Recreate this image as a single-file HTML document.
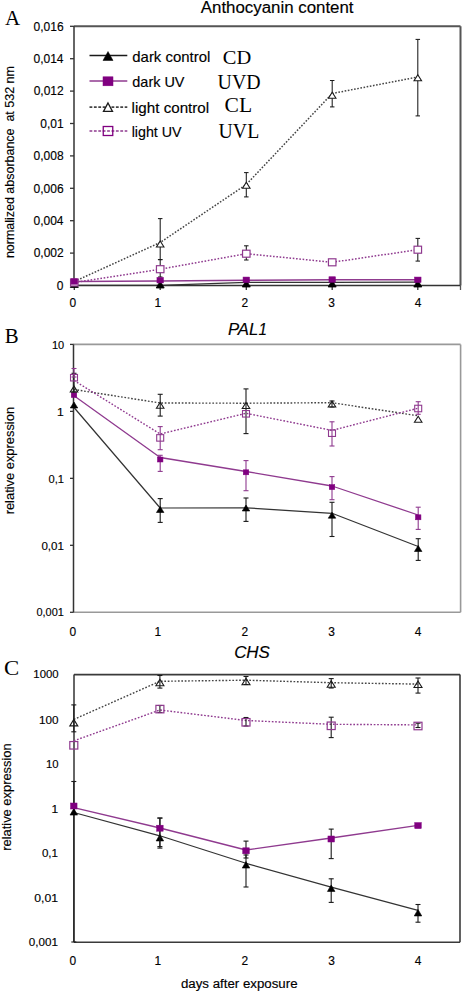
<!DOCTYPE html>
<html><head><meta charset="utf-8"><style>
html,body{margin:0;padding:0;background:#fff;width:463px;height:992px;overflow:hidden}
svg{display:block}
</style></head><body>
<svg width="463" height="992" viewBox="0 0 463 992">
<rect width="463" height="992" fill="#fff"/>
<text x="4.99" y="25.00" font-family='"Liberation Serif", serif' font-size="21" textLength="15.16" lengthAdjust="spacingAndGlyphs" fill="#000" stroke="#000" stroke-width="0" style="" >A</text>
<text x="4.77" y="343.30" font-family='"Liberation Serif", serif' font-size="20" textLength="13.91" lengthAdjust="spacingAndGlyphs" fill="#000" stroke="#000" stroke-width="0" style="" >B</text>
<text x="4.09" y="674.60" font-family='"Liberation Serif", serif' font-size="20" textLength="15.21" lengthAdjust="spacingAndGlyphs" fill="#000" stroke="#000" stroke-width="0" style="" >C</text>
<text x="200.80" y="13.00" font-family='"Liberation Sans", sans-serif' font-size="16" textLength="152.72" lengthAdjust="spacingAndGlyphs" fill="#000" stroke="#000" stroke-width="0.15" style="" >Anthocyanin content</text>
<text transform="translate(13.80,258.11) rotate(-90)" x="0" y="0" font-family='"Liberation Sans", sans-serif' font-size="13" textLength="192.00" lengthAdjust="spacingAndGlyphs" fill="#000" stroke="#000" stroke-width="0.15">normalized absorbance  at 532 nm</text>
<text x="33.58" y="30.60" font-family='"Liberation Sans", sans-serif' font-size="12" textLength="30.03" lengthAdjust="spacingAndGlyphs" fill="#000" stroke="#000" stroke-width="0.15" style="" >0,016</text>
<line x1="70.00" y1="26.30" x2="74.00" y2="26.30" stroke="#333" stroke-width="1.3" />
<text x="33.46" y="63.00" font-family='"Liberation Sans", sans-serif' font-size="12" textLength="30.03" lengthAdjust="spacingAndGlyphs" fill="#000" stroke="#000" stroke-width="0.15" style="" >0,014</text>
<line x1="70.00" y1="58.70" x2="74.00" y2="58.70" stroke="#333" stroke-width="1.3" />
<text x="33.70" y="95.40" font-family='"Liberation Sans", sans-serif' font-size="12" textLength="30.03" lengthAdjust="spacingAndGlyphs" fill="#000" stroke="#000" stroke-width="0.15" style="" >0,012</text>
<line x1="70.00" y1="91.10" x2="74.00" y2="91.10" stroke="#333" stroke-width="1.3" />
<text x="40.30" y="127.80" font-family='"Liberation Sans", sans-serif' font-size="12" textLength="23.36" lengthAdjust="spacingAndGlyphs" fill="#000" stroke="#000" stroke-width="0.15" style="" >0,01</text>
<line x1="70.00" y1="123.50" x2="74.00" y2="123.50" stroke="#333" stroke-width="1.3" />
<text x="33.58" y="160.20" font-family='"Liberation Sans", sans-serif' font-size="12" textLength="30.03" lengthAdjust="spacingAndGlyphs" fill="#000" stroke="#000" stroke-width="0.15" style="" >0,008</text>
<line x1="70.00" y1="155.90" x2="74.00" y2="155.90" stroke="#333" stroke-width="1.3" />
<text x="33.58" y="192.60" font-family='"Liberation Sans", sans-serif' font-size="12" textLength="30.03" lengthAdjust="spacingAndGlyphs" fill="#000" stroke="#000" stroke-width="0.15" style="" >0,006</text>
<line x1="70.00" y1="188.30" x2="74.00" y2="188.30" stroke="#333" stroke-width="1.3" />
<text x="33.46" y="225.00" font-family='"Liberation Sans", sans-serif' font-size="12" textLength="30.03" lengthAdjust="spacingAndGlyphs" fill="#000" stroke="#000" stroke-width="0.15" style="" >0,004</text>
<line x1="70.00" y1="220.70" x2="74.00" y2="220.70" stroke="#333" stroke-width="1.3" />
<text x="33.70" y="257.40" font-family='"Liberation Sans", sans-serif' font-size="12" textLength="30.03" lengthAdjust="spacingAndGlyphs" fill="#000" stroke="#000" stroke-width="0.15" style="" >0,002</text>
<line x1="70.00" y1="253.10" x2="74.00" y2="253.10" stroke="#333" stroke-width="1.3" />
<text x="56.86" y="289.80" font-family='"Liberation Sans", sans-serif' font-size="12" textLength="6.67" lengthAdjust="spacingAndGlyphs" fill="#000" stroke="#000" stroke-width="0.15" style="" >0</text>
<line x1="70.00" y1="285.50" x2="74.00" y2="285.50" stroke="#333" stroke-width="1.3" />
<text x="69.54" y="306.70" font-family='"Liberation Sans", sans-serif' font-size="12" textLength="6.67" lengthAdjust="spacingAndGlyphs" fill="#000" stroke="#000" stroke-width="0.15" style="" >0</text>
<line x1="74.30" y1="285.50" x2="74.30" y2="290.00" stroke="#333" stroke-width="1.3" />
<text x="154.49" y="306.70" font-family='"Liberation Sans", sans-serif' font-size="12" textLength="6.67" lengthAdjust="spacingAndGlyphs" fill="#000" stroke="#000" stroke-width="0.15" style="" >1</text>
<line x1="160.20" y1="285.50" x2="160.20" y2="290.00" stroke="#333" stroke-width="1.3" />
<text x="241.57" y="306.70" font-family='"Liberation Sans", sans-serif' font-size="12" textLength="6.67" lengthAdjust="spacingAndGlyphs" fill="#000" stroke="#000" stroke-width="0.15" style="" >2</text>
<line x1="246.30" y1="285.50" x2="246.30" y2="290.00" stroke="#333" stroke-width="1.3" />
<text x="328.37" y="306.70" font-family='"Liberation Sans", sans-serif' font-size="12" textLength="6.67" lengthAdjust="spacingAndGlyphs" fill="#000" stroke="#000" stroke-width="0.15" style="" >3</text>
<line x1="332.20" y1="285.50" x2="332.20" y2="290.00" stroke="#333" stroke-width="1.3" />
<text x="414.73" y="306.70" font-family='"Liberation Sans", sans-serif' font-size="12" textLength="6.67" lengthAdjust="spacingAndGlyphs" fill="#000" stroke="#000" stroke-width="0.15" style="" >4</text>
<line x1="417.80" y1="285.50" x2="417.80" y2="290.00" stroke="#333" stroke-width="1.3" />
<line x1="460.50" y1="285.50" x2="460.50" y2="290.00" stroke="#555" stroke-width="1.3" />
<line x1="74.00" y1="26.30" x2="460.50" y2="26.30" stroke="#555" stroke-width="2" />
<line x1="460.50" y1="26.30" x2="460.50" y2="285.50" stroke="#555" stroke-width="2" />
<line x1="74.00" y1="26.30" x2="74.00" y2="285.50" stroke="#333" stroke-width="1.5" />
<line x1="74.00" y1="285.50" x2="460.50" y2="285.50" stroke="#333" stroke-width="1.5" />
<polyline points="74.30,285.30 160.20,285.30 246.30,282.30 332.20,282.30 417.80,282.20" fill="none" stroke="#333" stroke-width="1.3" stroke-linejoin="round"/>
<polygon points="74.30,280.50 78.30,287.50 70.30,287.50" fill="#000" stroke="#000" stroke-width="0.8" stroke-linejoin="miter"/>
<polygon points="160.20,281.00 164.20,288.00 156.20,288.00" fill="#000" stroke="#000" stroke-width="0.8" stroke-linejoin="miter"/>
<polygon points="246.30,280.00 250.30,287.00 242.30,287.00" fill="#000" stroke="#000" stroke-width="0.8" stroke-linejoin="miter"/>
<polygon points="332.20,280.00 336.20,287.00 328.20,287.00" fill="#000" stroke="#000" stroke-width="0.8" stroke-linejoin="miter"/>
<polygon points="417.80,280.00 421.80,287.00 413.80,287.00" fill="#000" stroke="#000" stroke-width="0.8" stroke-linejoin="miter"/>
<polyline points="74.30,281.50 160.20,281.00 246.30,280.20 332.20,279.80 417.80,279.70" fill="none" stroke="#8f3a8f" stroke-width="1.5" stroke-linejoin="round"/>
<polyline points="74.30,281.50 160.20,242.50 246.30,184.50 332.20,93.50 417.80,77.00" fill="none" stroke="#444" stroke-width="1.5" stroke-dasharray="1.6 1.6" stroke-linejoin="round"/>
<line x1="160.20" y1="218.60" x2="160.20" y2="259.60" stroke="#1a1a1a" stroke-width="1.05" />
<line x1="157.95" y1="218.60" x2="162.45" y2="218.60" stroke="#1a1a1a" stroke-width="1.05" />
<line x1="157.95" y1="259.60" x2="162.45" y2="259.60" stroke="#1a1a1a" stroke-width="1.05" />
<line x1="246.30" y1="172.60" x2="246.30" y2="196.90" stroke="#1a1a1a" stroke-width="1.05" />
<line x1="244.05" y1="172.60" x2="248.55" y2="172.60" stroke="#1a1a1a" stroke-width="1.05" />
<line x1="244.05" y1="196.90" x2="248.55" y2="196.90" stroke="#1a1a1a" stroke-width="1.05" />
<line x1="332.20" y1="80.50" x2="332.20" y2="106.90" stroke="#1a1a1a" stroke-width="1.05" />
<line x1="329.95" y1="80.50" x2="334.45" y2="80.50" stroke="#1a1a1a" stroke-width="1.05" />
<line x1="329.95" y1="106.90" x2="334.45" y2="106.90" stroke="#1a1a1a" stroke-width="1.05" />
<line x1="417.80" y1="39.40" x2="417.80" y2="115.90" stroke="#1a1a1a" stroke-width="1.05" />
<line x1="415.55" y1="39.40" x2="420.05" y2="39.40" stroke="#1a1a1a" stroke-width="1.05" />
<line x1="415.55" y1="115.90" x2="420.05" y2="115.90" stroke="#1a1a1a" stroke-width="1.05" />
<polyline points="74.30,282.50 160.20,269.20 246.30,253.70 332.20,262.30 417.80,249.70" fill="none" stroke="#8f3a8f" stroke-width="1.5" stroke-dasharray="1.6 1.7" stroke-linejoin="round"/>
<line x1="160.20" y1="259.60" x2="160.20" y2="277.00" stroke="#1a1a1a" stroke-width="1.05" />
<line x1="157.95" y1="259.60" x2="162.45" y2="259.60" stroke="#1a1a1a" stroke-width="1.05" />
<line x1="157.95" y1="277.00" x2="162.45" y2="277.00" stroke="#1a1a1a" stroke-width="1.05" />
<line x1="246.30" y1="245.80" x2="246.30" y2="260.00" stroke="#1a1a1a" stroke-width="1.05" />
<line x1="244.05" y1="245.80" x2="248.55" y2="245.80" stroke="#1a1a1a" stroke-width="1.05" />
<line x1="244.05" y1="260.00" x2="248.55" y2="260.00" stroke="#1a1a1a" stroke-width="1.05" />
<line x1="417.80" y1="238.40" x2="417.80" y2="261.10" stroke="#1a1a1a" stroke-width="1.05" />
<line x1="415.55" y1="238.40" x2="420.05" y2="238.40" stroke="#1a1a1a" stroke-width="1.05" />
<line x1="415.55" y1="261.10" x2="420.05" y2="261.10" stroke="#1a1a1a" stroke-width="1.05" />
<rect x="70.55" y="279.00" width="7.50" height="7.00" fill="#fff" stroke="#8f3a8f" stroke-width="1.2"/>
<rect x="156.45" y="265.70" width="7.50" height="7.00" fill="#fff" stroke="#8f3a8f" stroke-width="1.2"/>
<rect x="242.55" y="250.20" width="7.50" height="7.00" fill="#fff" stroke="#8f3a8f" stroke-width="1.2"/>
<rect x="328.45" y="258.80" width="7.50" height="7.00" fill="#fff" stroke="#8f3a8f" stroke-width="1.2"/>
<rect x="414.05" y="246.20" width="7.50" height="7.00" fill="#fff" stroke="#8f3a8f" stroke-width="1.2"/>
<polygon points="160.20,241.00 163.95,247.00 156.45,247.00" fill="#fff" stroke="#1a1a1a" stroke-width="1.1" stroke-linejoin="miter"/>
<polygon points="246.30,182.30 250.05,188.30 242.55,188.30" fill="#fff" stroke="#1a1a1a" stroke-width="1.1" stroke-linejoin="miter"/>
<polygon points="332.20,92.30 335.95,98.30 328.45,98.30" fill="#fff" stroke="#1a1a1a" stroke-width="1.1" stroke-linejoin="miter"/>
<polygon points="417.80,74.80 421.55,80.80 414.05,80.80" fill="#fff" stroke="#1a1a1a" stroke-width="1.1" stroke-linejoin="miter"/>
<rect x="71.05" y="278.75" width="6.50" height="5.50" fill="#800080" stroke="#800080" stroke-width="0.5"/>
<rect x="156.95" y="277.45" width="6.50" height="5.50" fill="#800080" stroke="#800080" stroke-width="0.5"/>
<rect x="243.05" y="277.05" width="6.50" height="5.50" fill="#800080" stroke="#800080" stroke-width="0.5"/>
<rect x="328.95" y="276.75" width="6.50" height="5.50" fill="#800080" stroke="#800080" stroke-width="0.5"/>
<rect x="414.55" y="277.05" width="6.50" height="5.50" fill="#800080" stroke="#800080" stroke-width="0.5"/>
<line x1="89.50" y1="55.50" x2="127.30" y2="55.50" stroke="#1a1a1a" stroke-width="1.5" />
<polygon points="108.00,51.50 113.00,60.50 103.00,60.50" fill="#000" stroke="#000" stroke-width="0.5" stroke-linejoin="miter"/>
<line x1="89.50" y1="81.00" x2="127.30" y2="81.00" stroke="#8f3a8f" stroke-width="1.4" />
<rect x="103.00" y="76.80" width="10.00" height="9.00" fill="#800080" stroke="#800080" stroke-width="0.5"/>
<line x1="89.50" y1="107.20" x2="127.30" y2="107.20" stroke="#444" stroke-width="1.8" stroke-dasharray="2.8 1.6"/>
<polygon points="108.00,102.95 112.50,111.45 103.50,111.45" fill="#fff" stroke="#1a1a1a" stroke-width="1.3" stroke-linejoin="miter"/>
<line x1="89.50" y1="131.00" x2="127.30" y2="131.00" stroke="#8f3a8f" stroke-width="1.6" stroke-dasharray="2.8 1.6"/>
<rect x="103.25" y="126.50" width="9.50" height="9.00" fill="none" stroke="#800080" stroke-width="1.3"/>
<text x="132.30" y="62.30" font-family='"Liberation Sans", sans-serif' font-size="14.5" textLength="77.96" lengthAdjust="spacingAndGlyphs" fill="#000" stroke="#000" stroke-width="0.15" style="" >dark control</text>
<text x="132.32" y="87.00" font-family='"Liberation Sans", sans-serif' font-size="14.5" textLength="52.19" lengthAdjust="spacingAndGlyphs" fill="#000" stroke="#000" stroke-width="0.15" style="" >dark UV</text>
<text x="131.61" y="112.80" font-family='"Liberation Sans", sans-serif' font-size="14.5" textLength="77.53" lengthAdjust="spacingAndGlyphs" fill="#000" stroke="#000" stroke-width="0.15" style="" >light control</text>
<text x="131.67" y="137.20" font-family='"Liberation Sans", sans-serif' font-size="14.5" textLength="49.92" lengthAdjust="spacingAndGlyphs" fill="#000" stroke="#000" stroke-width="0.15" style="" >light UV</text>
<text x="222.78" y="64.30" font-family='"Liberation Serif", serif' font-size="19.5" textLength="28.42" lengthAdjust="spacingAndGlyphs" fill="#000" stroke="#000" stroke-width="0" style="" >CD</text>
<text x="217.60" y="89.30" font-family='"Liberation Serif", serif' font-size="21.5" textLength="43.02" lengthAdjust="spacingAndGlyphs" fill="#000" stroke="#000" stroke-width="0" style="" >UVD</text>
<text x="224.64" y="112.10" font-family='"Liberation Serif", serif' font-size="20" textLength="27.52" lengthAdjust="spacingAndGlyphs" fill="#000" stroke="#000" stroke-width="0" style="" >CL</text>
<text x="218.61" y="138.00" font-family='"Liberation Serif", serif' font-size="21.5" textLength="40.58" lengthAdjust="spacingAndGlyphs" fill="#000" stroke="#000" stroke-width="0" style="" >UVL</text>
<text x="227.90" y="335.00" font-family='"Liberation Sans", sans-serif' font-size="16" textLength="30.39" lengthAdjust="spacingAndGlyphs" fill="#000" stroke="#000" stroke-width="0.15" style="font-style:italic;" >PAL</text>
<text x="258.62" y="335.00" font-family='"Liberation Sans", sans-serif' font-size="16" textLength="8.50" lengthAdjust="spacingAndGlyphs" fill="#000" stroke="#000" stroke-width="0.15" style="font-style:italic;" >1</text>
<text transform="translate(13.90,514.34) rotate(-90)" x="0" y="0" font-family='"Liberation Sans", sans-serif' font-size="13" textLength="107.41" lengthAdjust="spacingAndGlyphs" fill="#000" stroke="#000" stroke-width="0.15">relative expression</text>
<text x="51.97" y="348.90" font-family='"Liberation Sans", sans-serif' font-size="11.5" textLength="12.24" lengthAdjust="spacingAndGlyphs" fill="#000" stroke="#000" stroke-width="0.15" style="" >10</text>
<text x="56.99" y="415.60" font-family='"Liberation Sans", sans-serif' font-size="11.5" textLength="6.78" lengthAdjust="spacingAndGlyphs" fill="#000" stroke="#000" stroke-width="0.15" style="" >1</text>
<text x="48.46" y="482.60" font-family='"Liberation Sans", sans-serif' font-size="11.5" textLength="15.45" lengthAdjust="spacingAndGlyphs" fill="#000" stroke="#000" stroke-width="0.15" style="" >0,1</text>
<text x="41.44" y="549.50" font-family='"Liberation Sans", sans-serif' font-size="11.5" textLength="22.50" lengthAdjust="spacingAndGlyphs" fill="#000" stroke="#000" stroke-width="0.15" style="" >0,01</text>
<text x="36.46" y="616.40" font-family='"Liberation Sans", sans-serif' font-size="11.5" textLength="27.36" lengthAdjust="spacingAndGlyphs" fill="#000" stroke="#000" stroke-width="0.15" style="" >0,001</text>
<line x1="70.00" y1="344.40" x2="74.00" y2="344.40" stroke="#333" stroke-width="1.3" />
<line x1="70.00" y1="411.38" x2="74.00" y2="411.38" stroke="#333" stroke-width="1.3" />
<line x1="70.00" y1="478.35" x2="74.00" y2="478.35" stroke="#333" stroke-width="1.3" />
<line x1="70.00" y1="545.32" x2="74.00" y2="545.32" stroke="#333" stroke-width="1.3" />
<line x1="70.00" y1="612.30" x2="74.00" y2="612.30" stroke="#333" stroke-width="1.3" />
<text x="69.54" y="635.60" font-family='"Liberation Sans", sans-serif' font-size="12" textLength="6.67" lengthAdjust="spacingAndGlyphs" fill="#000" stroke="#000" stroke-width="0.15" style="" >0</text>
<text x="154.49" y="635.60" font-family='"Liberation Sans", sans-serif' font-size="12" textLength="6.67" lengthAdjust="spacingAndGlyphs" fill="#000" stroke="#000" stroke-width="0.15" style="" >1</text>
<text x="241.57" y="635.60" font-family='"Liberation Sans", sans-serif' font-size="12" textLength="6.67" lengthAdjust="spacingAndGlyphs" fill="#000" stroke="#000" stroke-width="0.15" style="" >2</text>
<text x="328.37" y="635.60" font-family='"Liberation Sans", sans-serif' font-size="12" textLength="6.67" lengthAdjust="spacingAndGlyphs" fill="#000" stroke="#000" stroke-width="0.15" style="" >3</text>
<text x="414.73" y="635.60" font-family='"Liberation Sans", sans-serif' font-size="12" textLength="6.67" lengthAdjust="spacingAndGlyphs" fill="#000" stroke="#000" stroke-width="0.15" style="" >4</text>
<line x1="73.50" y1="344.40" x2="460.60" y2="344.40" stroke="#999" stroke-width="1.6" />
<line x1="460.60" y1="344.40" x2="460.60" y2="612.30" stroke="#999" stroke-width="1.6" />
<line x1="73.50" y1="612.30" x2="460.60" y2="612.30" stroke="#999" stroke-width="1.6" />
<line x1="73.50" y1="344.40" x2="73.50" y2="612.30" stroke="#333" stroke-width="1.5" />
<polyline points="74.00,407.50 160.20,508.00 246.00,507.80 332.00,513.30 418.20,546.50" fill="none" stroke="#333" stroke-width="1.2" stroke-linejoin="round"/>
<line x1="160.20" y1="498.60" x2="160.20" y2="522.40" stroke="#1a1a1a" stroke-width="1.1" />
<line x1="157.70" y1="498.60" x2="162.70" y2="498.60" stroke="#1a1a1a" stroke-width="1.1" />
<line x1="157.70" y1="522.40" x2="162.70" y2="522.40" stroke="#1a1a1a" stroke-width="1.1" />
<line x1="246.00" y1="498.00" x2="246.00" y2="521.40" stroke="#1a1a1a" stroke-width="1.1" />
<line x1="243.50" y1="498.00" x2="248.50" y2="498.00" stroke="#1a1a1a" stroke-width="1.1" />
<line x1="243.50" y1="521.40" x2="248.50" y2="521.40" stroke="#1a1a1a" stroke-width="1.1" />
<line x1="332.00" y1="502.30" x2="332.00" y2="536.50" stroke="#1a1a1a" stroke-width="1.1" />
<line x1="329.50" y1="502.30" x2="334.50" y2="502.30" stroke="#1a1a1a" stroke-width="1.1" />
<line x1="329.50" y1="536.50" x2="334.50" y2="536.50" stroke="#1a1a1a" stroke-width="1.1" />
<line x1="418.20" y1="538.70" x2="418.20" y2="560.40" stroke="#1a1a1a" stroke-width="1.1" />
<line x1="415.70" y1="538.70" x2="420.70" y2="538.70" stroke="#1a1a1a" stroke-width="1.1" />
<line x1="415.70" y1="560.40" x2="420.70" y2="560.40" stroke="#1a1a1a" stroke-width="1.1" />
<polygon points="74.00,402.00 77.75,408.00 70.25,408.00" fill="#000" stroke="#000" stroke-width="0.6" stroke-linejoin="miter"/>
<polygon points="160.20,506.50 163.95,512.50 156.45,512.50" fill="#000" stroke="#000" stroke-width="0.6" stroke-linejoin="miter"/>
<polygon points="246.00,505.00 249.75,511.00 242.25,511.00" fill="#000" stroke="#000" stroke-width="0.6" stroke-linejoin="miter"/>
<polygon points="332.00,512.20 335.75,518.20 328.25,518.20" fill="#000" stroke="#000" stroke-width="0.6" stroke-linejoin="miter"/>
<polygon points="418.20,545.50 421.95,551.50 414.45,551.50" fill="#000" stroke="#000" stroke-width="0.6" stroke-linejoin="miter"/>
<polyline points="74.00,395.70 160.20,457.50 246.00,471.50 332.00,486.00 418.20,515.00" fill="none" stroke="#8f3a8f" stroke-width="1.3" stroke-linejoin="round"/>
<line x1="160.20" y1="455.30" x2="160.20" y2="471.40" stroke="#8f3a8f" stroke-width="1.1" />
<line x1="157.70" y1="455.30" x2="162.70" y2="455.30" stroke="#8f3a8f" stroke-width="1.1" />
<line x1="157.70" y1="471.40" x2="162.70" y2="471.40" stroke="#8f3a8f" stroke-width="1.1" />
<line x1="246.00" y1="460.60" x2="246.00" y2="490.70" stroke="#8f3a8f" stroke-width="1.1" />
<line x1="243.50" y1="460.60" x2="248.50" y2="460.60" stroke="#8f3a8f" stroke-width="1.1" />
<line x1="243.50" y1="490.70" x2="248.50" y2="490.70" stroke="#8f3a8f" stroke-width="1.1" />
<line x1="332.00" y1="476.60" x2="332.00" y2="499.70" stroke="#8f3a8f" stroke-width="1.1" />
<line x1="329.50" y1="476.60" x2="334.50" y2="476.60" stroke="#8f3a8f" stroke-width="1.1" />
<line x1="329.50" y1="499.70" x2="334.50" y2="499.70" stroke="#8f3a8f" stroke-width="1.1" />
<line x1="418.20" y1="507.20" x2="418.20" y2="529.40" stroke="#8f3a8f" stroke-width="1.1" />
<line x1="415.70" y1="507.20" x2="420.70" y2="507.20" stroke="#8f3a8f" stroke-width="1.1" />
<line x1="415.70" y1="529.40" x2="420.70" y2="529.40" stroke="#8f3a8f" stroke-width="1.1" />
<rect x="71.25" y="392.50" width="5.50" height="5.00" fill="#800080" stroke="#800080" stroke-width="0.5"/>
<rect x="157.45" y="457.00" width="5.50" height="5.00" fill="#800080" stroke="#800080" stroke-width="0.5"/>
<rect x="243.25" y="469.80" width="5.50" height="5.00" fill="#800080" stroke="#800080" stroke-width="0.5"/>
<rect x="329.25" y="484.60" width="5.50" height="5.00" fill="#800080" stroke="#800080" stroke-width="0.5"/>
<rect x="415.45" y="514.80" width="5.50" height="5.00" fill="#800080" stroke="#800080" stroke-width="0.5"/>
<polyline points="74.00,389.50 160.20,403.00 246.00,403.20 332.00,402.70 418.20,415.80" fill="none" stroke="#444" stroke-width="1.4" stroke-dasharray="1.7 1.7" stroke-linejoin="round"/>
<line x1="74.00" y1="373.30" x2="74.00" y2="392.00" stroke="#1a1a1a" stroke-width="1.1" />
<line x1="71.50" y1="373.30" x2="76.50" y2="373.30" stroke="#1a1a1a" stroke-width="1.1" />
<line x1="71.50" y1="392.00" x2="76.50" y2="392.00" stroke="#1a1a1a" stroke-width="1.1" />
<line x1="160.20" y1="394.30" x2="160.20" y2="416.10" stroke="#1a1a1a" stroke-width="1.1" />
<line x1="157.70" y1="394.30" x2="162.70" y2="394.30" stroke="#1a1a1a" stroke-width="1.1" />
<line x1="157.70" y1="416.10" x2="162.70" y2="416.10" stroke="#1a1a1a" stroke-width="1.1" />
<line x1="246.00" y1="388.90" x2="246.00" y2="433.60" stroke="#1a1a1a" stroke-width="1.1" />
<line x1="243.50" y1="388.90" x2="248.50" y2="388.90" stroke="#1a1a1a" stroke-width="1.1" />
<line x1="243.50" y1="433.60" x2="248.50" y2="433.60" stroke="#1a1a1a" stroke-width="1.1" />
<line x1="332.00" y1="401.00" x2="332.00" y2="407.00" stroke="#1a1a1a" stroke-width="1.1" />
<line x1="329.50" y1="401.00" x2="334.50" y2="401.00" stroke="#1a1a1a" stroke-width="1.1" />
<line x1="329.50" y1="407.00" x2="334.50" y2="407.00" stroke="#1a1a1a" stroke-width="1.1" />
<polygon points="74.00,386.00 77.75,392.00 70.25,392.00" fill="none" stroke="#1a1a1a" stroke-width="1.1" stroke-linejoin="miter"/>
<polygon points="160.20,402.30 163.95,408.30 156.45,408.30" fill="none" stroke="#1a1a1a" stroke-width="1.1" stroke-linejoin="miter"/>
<polygon points="246.00,402.50 249.75,408.50 242.25,408.50" fill="none" stroke="#1a1a1a" stroke-width="1.1" stroke-linejoin="miter"/>
<polygon points="332.00,401.00 335.75,407.00 328.25,407.00" fill="none" stroke="#1a1a1a" stroke-width="1.1" stroke-linejoin="miter"/>
<polygon points="418.20,416.30 421.95,422.30 414.45,422.30" fill="none" stroke="#1a1a1a" stroke-width="1.1" stroke-linejoin="miter"/>
<polyline points="74.00,380.50 160.20,434.00 246.00,413.30 332.00,430.40 418.20,408.20" fill="none" stroke="#8f3a8f" stroke-width="1.4" stroke-dasharray="1.7 1.7" stroke-linejoin="round"/>
<line x1="74.00" y1="368.50" x2="74.00" y2="377.00" stroke="#8f3a8f" stroke-width="1.1" />
<line x1="71.50" y1="368.50" x2="76.50" y2="368.50" stroke="#8f3a8f" stroke-width="1.1" />
<line x1="71.50" y1="377.00" x2="76.50" y2="377.00" stroke="#8f3a8f" stroke-width="1.1" />
<line x1="160.20" y1="426.60" x2="160.20" y2="449.70" stroke="#8f3a8f" stroke-width="1.1" />
<line x1="157.70" y1="426.60" x2="162.70" y2="426.60" stroke="#8f3a8f" stroke-width="1.1" />
<line x1="157.70" y1="449.70" x2="162.70" y2="449.70" stroke="#8f3a8f" stroke-width="1.1" />
<line x1="332.00" y1="421.80" x2="332.00" y2="446.00" stroke="#8f3a8f" stroke-width="1.1" />
<line x1="329.50" y1="421.80" x2="334.50" y2="421.80" stroke="#8f3a8f" stroke-width="1.1" />
<line x1="329.50" y1="446.00" x2="334.50" y2="446.00" stroke="#8f3a8f" stroke-width="1.1" />
<line x1="418.20" y1="401.70" x2="418.20" y2="414.30" stroke="#8f3a8f" stroke-width="1.1" />
<line x1="415.70" y1="401.70" x2="420.70" y2="401.70" stroke="#8f3a8f" stroke-width="1.1" />
<line x1="415.70" y1="414.30" x2="420.70" y2="414.30" stroke="#8f3a8f" stroke-width="1.1" />
<rect x="70.50" y="374.45" width="7.00" height="6.50" fill="none" stroke="#8f3a8f" stroke-width="1.1"/>
<rect x="156.70" y="434.65" width="7.00" height="6.50" fill="none" stroke="#8f3a8f" stroke-width="1.1"/>
<rect x="242.50" y="410.55" width="7.00" height="6.50" fill="none" stroke="#8f3a8f" stroke-width="1.1"/>
<rect x="328.50" y="429.95" width="7.00" height="6.50" fill="none" stroke="#8f3a8f" stroke-width="1.1"/>
<rect x="414.70" y="405.25" width="7.00" height="6.50" fill="none" stroke="#8f3a8f" stroke-width="1.1"/>
<text x="234.17" y="658.30" font-family='"Liberation Sans", sans-serif' font-size="16.5" textLength="35.72" lengthAdjust="spacingAndGlyphs" fill="#000" stroke="#000" stroke-width="0.15" style="font-style:italic;" >CHS</text>
<text transform="translate(11.00,850.74) rotate(-90)" x="0" y="0" font-family='"Liberation Sans", sans-serif' font-size="13" textLength="107.41" lengthAdjust="spacingAndGlyphs" fill="#000" stroke="#000" stroke-width="0.15">relative expression</text>
<text x="33.35" y="678.40" font-family='"Liberation Sans", sans-serif' font-size="11.5" textLength="25.24" lengthAdjust="spacingAndGlyphs" fill="#000" stroke="#000" stroke-width="0.15" style="" >1000</text>
<text x="38.92" y="723.60" font-family='"Liberation Sans", sans-serif' font-size="11.5" textLength="19.53" lengthAdjust="spacingAndGlyphs" fill="#000" stroke="#000" stroke-width="0.15" style="" >100</text>
<text x="46.05" y="768.00" font-family='"Liberation Sans", sans-serif' font-size="11.5" textLength="12.57" lengthAdjust="spacingAndGlyphs" fill="#000" stroke="#000" stroke-width="0.15" style="" >10</text>
<text x="51.40" y="812.70" font-family='"Liberation Sans", sans-serif' font-size="11.5" textLength="6.65" lengthAdjust="spacingAndGlyphs" fill="#000" stroke="#000" stroke-width="0.15" style="" >1</text>
<text x="41.94" y="857.20" font-family='"Liberation Sans", sans-serif' font-size="11.5" textLength="16.09" lengthAdjust="spacingAndGlyphs" fill="#000" stroke="#000" stroke-width="0.15" style="" >0,1</text>
<text x="34.31" y="901.80" font-family='"Liberation Sans", sans-serif' font-size="11.5" textLength="23.75" lengthAdjust="spacingAndGlyphs" fill="#000" stroke="#000" stroke-width="0.15" style="" >0,01</text>
<text x="28.83" y="946.40" font-family='"Liberation Sans", sans-serif' font-size="11.5" textLength="29.12" lengthAdjust="spacingAndGlyphs" fill="#000" stroke="#000" stroke-width="0.15" style="" >0,001</text>
<text x="69.54" y="965.00" font-family='"Liberation Sans", sans-serif' font-size="12" textLength="6.67" lengthAdjust="spacingAndGlyphs" fill="#000" stroke="#000" stroke-width="0.15" style="" >0</text>
<text x="154.49" y="965.00" font-family='"Liberation Sans", sans-serif' font-size="12" textLength="6.67" lengthAdjust="spacingAndGlyphs" fill="#000" stroke="#000" stroke-width="0.15" style="" >1</text>
<text x="241.57" y="965.00" font-family='"Liberation Sans", sans-serif' font-size="12" textLength="6.67" lengthAdjust="spacingAndGlyphs" fill="#000" stroke="#000" stroke-width="0.15" style="" >2</text>
<text x="328.37" y="965.00" font-family='"Liberation Sans", sans-serif' font-size="12" textLength="6.67" lengthAdjust="spacingAndGlyphs" fill="#000" stroke="#000" stroke-width="0.15" style="" >3</text>
<text x="414.73" y="965.00" font-family='"Liberation Sans", sans-serif' font-size="12" textLength="6.67" lengthAdjust="spacingAndGlyphs" fill="#000" stroke="#000" stroke-width="0.15" style="" >4</text>
<line x1="74.00" y1="674.60" x2="460.00" y2="674.60" stroke="#3a3a3a" stroke-width="1.6" />
<line x1="460.00" y1="674.60" x2="460.00" y2="942.30" stroke="#3a3a3a" stroke-width="1.6" />
<line x1="74.00" y1="942.30" x2="460.00" y2="942.30" stroke="#3a3a3a" stroke-width="1.6" />
<line x1="74.00" y1="674.60" x2="74.00" y2="942.30" stroke="#333" stroke-width="1.5" />
<text x="180.97" y="987.50" font-family='"Liberation Sans", sans-serif' font-size="12.5" textLength="116.57" lengthAdjust="spacingAndGlyphs" fill="#000" stroke="#000" stroke-width="0.15" style="" >days after exposure</text>
<polyline points="73.80,812.50 159.90,835.80 246.00,863.30 331.20,887.20 418.00,910.40" fill="none" stroke="#333" stroke-width="1.2" stroke-linejoin="round"/>
<line x1="73.80" y1="781.50" x2="73.80" y2="942.00" stroke="#1a1a1a" stroke-width="1.1" />
<line x1="71.30" y1="781.50" x2="76.30" y2="781.50" stroke="#1a1a1a" stroke-width="1.1" />
<line x1="71.30" y1="942.00" x2="76.30" y2="942.00" stroke="#1a1a1a" stroke-width="1.1" />
<line x1="159.90" y1="818.00" x2="159.90" y2="848.10" stroke="#1a1a1a" stroke-width="1.1" />
<line x1="157.40" y1="818.00" x2="162.40" y2="818.00" stroke="#1a1a1a" stroke-width="1.1" />
<line x1="157.40" y1="848.10" x2="162.40" y2="848.10" stroke="#1a1a1a" stroke-width="1.1" />
<line x1="246.00" y1="855.00" x2="246.00" y2="887.00" stroke="#1a1a1a" stroke-width="1.1" />
<line x1="243.50" y1="855.00" x2="248.50" y2="855.00" stroke="#1a1a1a" stroke-width="1.1" />
<line x1="243.50" y1="887.00" x2="248.50" y2="887.00" stroke="#1a1a1a" stroke-width="1.1" />
<line x1="331.20" y1="878.80" x2="331.20" y2="902.40" stroke="#1a1a1a" stroke-width="1.1" />
<line x1="328.70" y1="878.80" x2="333.70" y2="878.80" stroke="#1a1a1a" stroke-width="1.1" />
<line x1="328.70" y1="902.40" x2="333.70" y2="902.40" stroke="#1a1a1a" stroke-width="1.1" />
<line x1="418.00" y1="904.50" x2="418.00" y2="922.20" stroke="#1a1a1a" stroke-width="1.1" />
<line x1="415.50" y1="904.50" x2="420.50" y2="904.50" stroke="#1a1a1a" stroke-width="1.1" />
<line x1="415.50" y1="922.20" x2="420.50" y2="922.20" stroke="#1a1a1a" stroke-width="1.1" />
<polygon points="73.80,808.55 77.55,815.05 70.05,815.05" fill="#000" stroke="#000" stroke-width="0.6" stroke-linejoin="miter"/>
<polygon points="159.90,834.45 163.65,840.95 156.15,840.95" fill="#000" stroke="#000" stroke-width="0.6" stroke-linejoin="miter"/>
<polygon points="246.00,861.55 249.75,868.05 242.25,868.05" fill="#000" stroke="#000" stroke-width="0.6" stroke-linejoin="miter"/>
<polygon points="331.20,884.95 334.95,891.45 327.45,891.45" fill="#000" stroke="#000" stroke-width="0.6" stroke-linejoin="miter"/>
<polygon points="418.00,909.45 421.75,915.95 414.25,915.95" fill="#000" stroke="#000" stroke-width="0.6" stroke-linejoin="miter"/>
<polyline points="73.80,807.60 159.90,828.00 246.00,850.00 331.20,838.00 418.00,825.40" fill="none" stroke="#8f3a8f" stroke-width="1.3" stroke-linejoin="round"/>
<line x1="159.90" y1="818.10" x2="159.90" y2="846.60" stroke="#1a1a1a" stroke-width="1.1" />
<line x1="157.40" y1="818.10" x2="162.40" y2="818.10" stroke="#1a1a1a" stroke-width="1.1" />
<line x1="157.40" y1="846.60" x2="162.40" y2="846.60" stroke="#1a1a1a" stroke-width="1.1" />
<line x1="246.00" y1="841.10" x2="246.00" y2="858.00" stroke="#1a1a1a" stroke-width="1.1" />
<line x1="243.50" y1="841.10" x2="248.50" y2="841.10" stroke="#1a1a1a" stroke-width="1.1" />
<line x1="243.50" y1="858.00" x2="248.50" y2="858.00" stroke="#1a1a1a" stroke-width="1.1" />
<line x1="331.20" y1="829.10" x2="331.20" y2="858.60" stroke="#1a1a1a" stroke-width="1.1" />
<line x1="328.70" y1="829.10" x2="333.70" y2="829.10" stroke="#1a1a1a" stroke-width="1.1" />
<line x1="328.70" y1="858.60" x2="333.70" y2="858.60" stroke="#1a1a1a" stroke-width="1.1" />
<rect x="70.55" y="803.00" width="6.50" height="6.00" fill="#800080" stroke="#800080" stroke-width="0.5"/>
<rect x="156.65" y="825.20" width="6.50" height="6.00" fill="#800080" stroke="#800080" stroke-width="0.5"/>
<rect x="242.75" y="847.80" width="6.50" height="6.00" fill="#800080" stroke="#800080" stroke-width="0.5"/>
<rect x="327.95" y="836.00" width="6.50" height="6.00" fill="#800080" stroke="#800080" stroke-width="0.5"/>
<rect x="414.75" y="822.60" width="6.50" height="6.00" fill="#800080" stroke="#800080" stroke-width="0.5"/>
<polyline points="73.80,719.40 159.90,681.30 246.00,680.20 331.20,682.70 418.00,684.10" fill="none" stroke="#444" stroke-width="1.4" stroke-dasharray="1.7 1.7" stroke-linejoin="round"/>
<line x1="73.80" y1="704.90" x2="73.80" y2="731.80" stroke="#1a1a1a" stroke-width="1.1" />
<line x1="71.30" y1="704.90" x2="76.30" y2="704.90" stroke="#1a1a1a" stroke-width="1.1" />
<line x1="71.30" y1="731.80" x2="76.30" y2="731.80" stroke="#1a1a1a" stroke-width="1.1" />
<line x1="159.90" y1="675.50" x2="159.90" y2="688.10" stroke="#1a1a1a" stroke-width="1.1" />
<line x1="157.40" y1="675.50" x2="162.40" y2="675.50" stroke="#1a1a1a" stroke-width="1.1" />
<line x1="157.40" y1="688.10" x2="162.40" y2="688.10" stroke="#1a1a1a" stroke-width="1.1" />
<line x1="246.00" y1="676.50" x2="246.00" y2="684.50" stroke="#1a1a1a" stroke-width="1.1" />
<line x1="243.50" y1="676.50" x2="248.50" y2="676.50" stroke="#1a1a1a" stroke-width="1.1" />
<line x1="243.50" y1="684.50" x2="248.50" y2="684.50" stroke="#1a1a1a" stroke-width="1.1" />
<line x1="331.20" y1="678.60" x2="331.20" y2="688.00" stroke="#1a1a1a" stroke-width="1.1" />
<line x1="328.70" y1="678.60" x2="333.70" y2="678.60" stroke="#1a1a1a" stroke-width="1.1" />
<line x1="328.70" y1="688.00" x2="333.70" y2="688.00" stroke="#1a1a1a" stroke-width="1.1" />
<line x1="418.00" y1="678.00" x2="418.00" y2="693.10" stroke="#1a1a1a" stroke-width="1.1" />
<line x1="415.50" y1="678.00" x2="420.50" y2="678.00" stroke="#1a1a1a" stroke-width="1.1" />
<line x1="415.50" y1="693.10" x2="420.50" y2="693.10" stroke="#1a1a1a" stroke-width="1.1" />
<polygon points="73.80,719.35 77.80,725.85 69.80,725.85" fill="none" stroke="#1a1a1a" stroke-width="1.1" stroke-linejoin="miter"/>
<polygon points="159.90,679.25 163.90,685.75 155.90,685.75" fill="none" stroke="#1a1a1a" stroke-width="1.1" stroke-linejoin="miter"/>
<polygon points="246.00,678.25 250.00,684.75 242.00,684.75" fill="none" stroke="#1a1a1a" stroke-width="1.1" stroke-linejoin="miter"/>
<polygon points="331.20,680.75 335.20,687.25 327.20,687.25" fill="none" stroke="#1a1a1a" stroke-width="1.1" stroke-linejoin="miter"/>
<polygon points="418.00,681.05 422.00,687.55 414.00,687.55" fill="none" stroke="#1a1a1a" stroke-width="1.1" stroke-linejoin="miter"/>
<polyline points="73.80,740.80 159.90,710.00 246.00,720.50 331.20,724.30 418.00,724.90" fill="none" stroke="#8f3a8f" stroke-width="1.4" stroke-dasharray="1.7 1.7" stroke-linejoin="round"/>
<line x1="159.90" y1="705.50" x2="159.90" y2="712.50" stroke="#1a1a1a" stroke-width="1.1" />
<line x1="157.40" y1="705.50" x2="162.40" y2="705.50" stroke="#1a1a1a" stroke-width="1.1" />
<line x1="157.40" y1="712.50" x2="162.40" y2="712.50" stroke="#1a1a1a" stroke-width="1.1" />
<line x1="246.00" y1="717.50" x2="246.00" y2="726.00" stroke="#1a1a1a" stroke-width="1.1" />
<line x1="243.50" y1="717.50" x2="248.50" y2="717.50" stroke="#1a1a1a" stroke-width="1.1" />
<line x1="243.50" y1="726.00" x2="248.50" y2="726.00" stroke="#1a1a1a" stroke-width="1.1" />
<line x1="331.20" y1="717.20" x2="331.20" y2="737.60" stroke="#1a1a1a" stroke-width="1.1" />
<line x1="328.70" y1="717.20" x2="333.70" y2="717.20" stroke="#1a1a1a" stroke-width="1.1" />
<line x1="328.70" y1="737.60" x2="333.70" y2="737.60" stroke="#1a1a1a" stroke-width="1.1" />
<line x1="418.00" y1="723.20" x2="418.00" y2="727.50" stroke="#1a1a1a" stroke-width="1.1" />
<line x1="415.50" y1="723.20" x2="420.50" y2="723.20" stroke="#1a1a1a" stroke-width="1.1" />
<line x1="415.50" y1="727.50" x2="420.50" y2="727.50" stroke="#1a1a1a" stroke-width="1.1" />
<rect x="69.80" y="741.55" width="8.00" height="7.50" fill="none" stroke="#8f3a8f" stroke-width="1.2"/>
<rect x="155.90" y="705.35" width="8.00" height="7.50" fill="none" stroke="#8f3a8f" stroke-width="1.2"/>
<rect x="242.00" y="718.55" width="8.00" height="7.50" fill="none" stroke="#8f3a8f" stroke-width="1.2"/>
<rect x="327.20" y="722.05" width="8.00" height="7.50" fill="none" stroke="#8f3a8f" stroke-width="1.2"/>
<rect x="414.00" y="722.25" width="8.00" height="7.50" fill="none" stroke="#8f3a8f" stroke-width="1.2"/>
</svg>
</body></html>
